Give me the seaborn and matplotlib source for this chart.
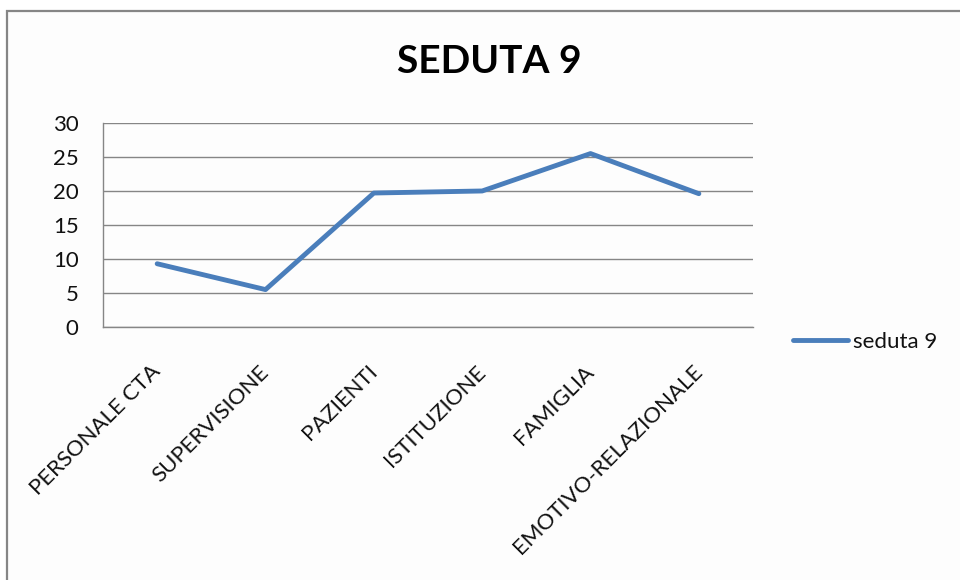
import pandas as pd
import matplotlib
matplotlib.use("Agg")
import matplotlib.pyplot as plt
import matplotlib.patches as patches
import seaborn as sns

categories = ["PERSONALE CTA", "SUPERVISIONE", "PAZIENTI", "ISTITUZIONE",
              "FAMIGLIA", "EMOTIVO-RELAZIONALE"]
values = [9.3, 5.5, 19.7, 20.0, 25.5, 19.6]
series_name = "seduta 9"
title = "SEDUTA 9"
y_ticks = [0, 5, 10, 15, 20, 25, 30]

sns.set_style("white")
plt.rcParams["font.family"] = ["Lato", "DejaVu Sans"]

df = pd.DataFrame({"categoria": categories, "valore": values, "serie": series_name})

fig = plt.figure(figsize=(9.6, 5.8), dpi=100)
fig.patch.set_facecolor("white")

# chart frame (cut off at right and bottom like the original screenshot)
frame = patches.Rectangle((0.0068, -0.2), 1.5, 0.981 + 0.2, transform=fig.transFigure,
                          facecolor="#fdfdfd", edgecolor="#868686", linewidth=1.6, zorder=-10)
fig.patches.append(frame)

ax = fig.add_axes([0.1073, 0.4362, 0.6771, 0.3518])
ax.set_facecolor("none")

sns.lineplot(data=df, x="categoria", y="valore", hue="serie", sort=False,
             palette=["#4a7ebb"], linewidth=3.5, ax=ax, legend=True)

ax.set_xlim(-0.5, len(categories) - 0.5)
ax.set_ylim(0, 30)
ax.set_yticks(y_ticks)
ax.set_xticks(range(len(categories)))
ax.set_xticklabels(categories, rotation=45, ha="right", va="center",
                   rotation_mode="anchor", fontsize=16)
ax.set_xticks([i - 0.5 for i in range(len(categories) + 1)], minor=True)
ax.tick_params(axis="x", which="major", length=0, pad=30)
ax.tick_params(axis="x", which="minor", length=5.5, color="#868686", width=1, direction="out")
ax.tick_params(axis="y", length=5.5, color="#868686", width=1, direction="out",
               labelsize=16, pad=12)
for lab in ax.get_yticklabels() + ax.get_xticklabels():
    lab.set_color("#111111")

ax.yaxis.grid(True, color="#868686", linewidth=1)
ax.set_axisbelow(True)
for side in ["top", "right"]:
    ax.spines[side].set_visible(False)
for side in ["left", "bottom"]:
    ax.spines[side].set_color("#868686")
    ax.spines[side].set_linewidth(1)
ax.set_xlabel("")
ax.set_ylabel("")

handles, labels = ax.get_legend_handles_labels()
leg = ax.legend(handles, labels, loc="center left", bbox_to_anchor=(0.8167, 0.41),
                bbox_transform=fig.transFigure, frameon=False, fontsize=16,
                handlelength=2.5, handletextpad=0.2, borderaxespad=0)
for t in leg.get_texts():
    t.set_color("#111111")

fig.text(0.51, 0.894, title, ha="center", va="center", fontsize=28,
         fontweight="bold", color="black")

fig.savefig("out.png", dpi=100)
